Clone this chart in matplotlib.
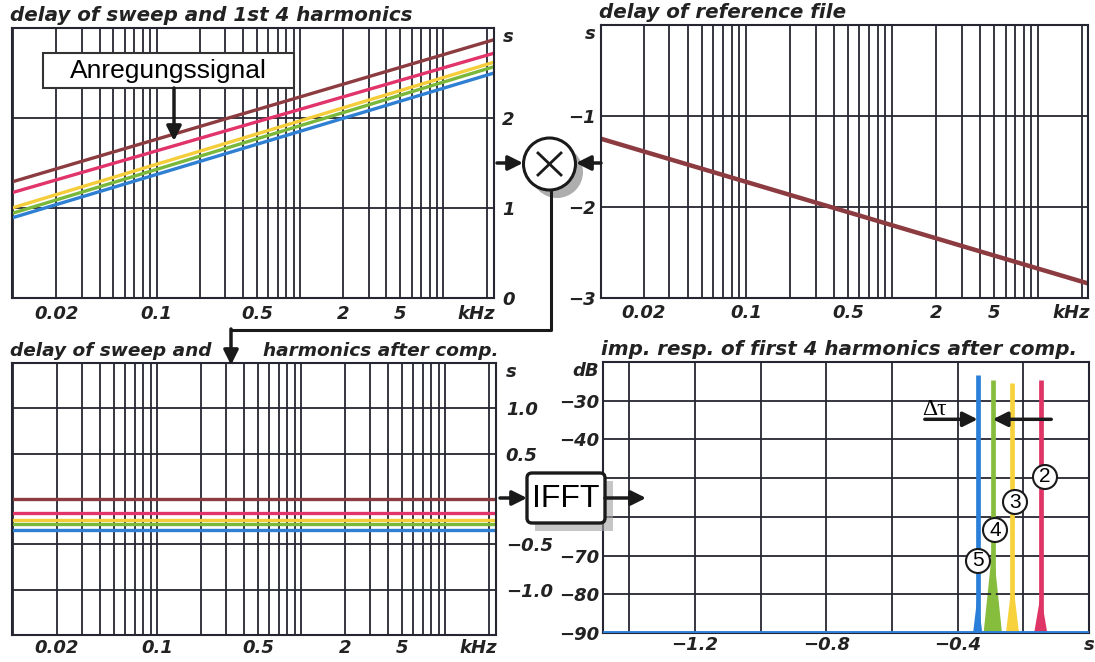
import numpy as np
import matplotlib.pyplot as plt
from matplotlib.patches import Rectangle, Circle, FancyBboxPatch
from matplotlib.ticker import LogLocator, FixedLocator, NullFormatter

# ---- values ----
sweep_khz = [0.0098, 22.5]            # ends of the sweep (log axis)
delay_fund = [1.29, 2.87]
delay_h2 = [1.17, 2.72]
delay_h3 = [1.00, 2.62]
delay_h4 = [0.94, 2.57]
delay_h5 = [0.89, 2.50]

ref_khz = [0.0102, 22.0]
ref_delay = [-1.25, -2.84]

comp_delay = [0.0, -0.15, -0.23, -0.28, -0.34]   # fundamental, 2nd .. 5th

harmonic_no = [2, 3, 4, 5]
peak_time = [-0.147, -0.233, -0.293, -0.339]
peak_level = [-24.7, -25.4, -24.6, -23.3]
floor_level = -90

freq_ticks = [0.02, 0.1, 0.5, 2, 5, 17]
freq_labels = ['0.02', '0.1', '0.5', '2', '5', 'kHz']

# ---- style ----
GRID = '#262633'
colors = ['#8c3b40', '#e0346a', '#f5cd3a', '#7ab83c', '#2f80d2']   # fund, 2, 3, 4, 5
peak_colors = {2: '#de3466', 3: '#f8d23c', 4: '#86bd3d', 5: '#2a80d8'}
TFONT = dict(family='DejaVu Sans', weight='bold', style='italic')

plt.rcParams['font.family'] = 'DejaVu Sans'

fig = plt.figure(figsize=(10.95, 6.62), dpi=100)


def style_axes(ax):
    for sp in ax.spines.values():
        sp.set_color(GRID)
        sp.set_linewidth(1.5)
    ax.tick_params(which='both', length=0)
    for lbl in ax.get_xticklabels() + ax.get_yticklabels():
        lbl.set_fontweight('bold')
        lbl.set_fontstyle('italic')
        lbl.set_fontsize(13)
        lbl.set_color('#222222')


def log_freq_axis(ax, xlim):
    ax.set_xscale('log')
    ax.set_xlim(*xlim)
    ax.xaxis.set_major_locator(FixedLocator(freq_ticks))
    ax.set_xticklabels(freq_labels)
    ax.xaxis.set_minor_locator(LogLocator(base=10, subs=np.arange(1, 10), numticks=60))
    ax.xaxis.set_minor_formatter(NullFormatter())
    ax.xaxis.remove_overlapping_locs = False
    ax.grid(which='minor', axis='x', color=GRID, lw=1.3)
    ax.grid(which='major', axis='y', color=GRID, lw=1.3)
    ax.grid(which='major', axis='x', visible=False)


def title(ax, txt, x=-0.004, ha='left', size=14.3):
    ax.text(x, 1.012, txt, transform=ax.transAxes, ha=ha, va='bottom',
            color='#222222', size=size, **TFONT)


# top left: delay of the sweep and harmonics
ax1 = fig.add_axes([12 / 1095, 1 - 298 / 662, 482 / 1095, 270 / 662])
for d, c in zip([delay_h5, delay_h4, delay_h3, delay_h2, delay_fund], colors[::-1]):
    ax1.plot(sweep_khz, d, color=c, lw=2.4, solid_capstyle='butt')
log_freq_axis(ax1, sweep_khz)
ax1.set_ylim(0, 3)
ax1.set_yticks([0, 1, 2, 3])
ax1.set_yticklabels(['0', '1', '2', 's'])
ax1.yaxis.tick_right()
ax1.tick_params(axis='y', pad=6)
ax1.tick_params(axis='x', pad=5)
style_axes(ax1)
ax1.get_yticklabels()[-1].set_va('top')
title(ax1, 'delay of sweep and 1st 4 harmonics')

# top right: delay of the reference file
ax2 = fig.add_axes([601 / 1095, 1 - 298 / 662, 487 / 1095, 273 / 662])
ax2.plot(ref_khz, ref_delay, color='#8c3b40', lw=3.2)
log_freq_axis(ax2, ref_khz)
ax2.set_ylim(-3, 0)
ax2.set_yticks([-3, -2, -1, 0])
ax2.set_yticklabels(['\u22123', '\u22122', '\u22121', 's'])
ax2.tick_params(axis='y', pad=4)
ax2.tick_params(axis='x', pad=4)
style_axes(ax2)
ax2.get_yticklabels()[-1].set_va('top')
title(ax2, 'delay of reference file')

# bottom left: delays after compensation
ax3 = fig.add_axes([12 / 1095, 1 - 635 / 662, 484 / 1095, 272 / 662])
for d, c in zip(comp_delay[::-1], colors[::-1]):
    ax3.plot(sweep_khz, [d, d], color=c, lw=2.4)
log_freq_axis(ax3, sweep_khz)
ax3.set_ylim(-1.5, 1.5)
ax3.set_yticks([-1.0, -0.5, 0, 0.5, 1.0, 1.5])
ax3.set_yticklabels(['\u22121.0', '\u22120.5', '', '0.5', '1.0', 's'])
ax3.yaxis.tick_right()
ax3.tick_params(axis='y', pad=7)
ax3.tick_params(axis='x', pad=3)
style_axes(ax3)
ax3.get_yticklabels()[-1].set_va('top')
title(ax3, 'delay of sweep and', size=13.3)
title(ax3, 'harmonics after comp.', x=1.006, ha='right', size=13.3)

# bottom right: impulse responses of the harmonics
ax4 = fig.add_axes([603 / 1095, 1 - 633 / 662, 486 / 1095, 271 / 662])
ax4.set_xlim(-1.48, 0)
ax4.set_ylim(-90, -20)
flare = {2: (-80, 0.020), 3: (-76, 0.020), 4: (-67, 0.028), 5: (-80, 0.014)}
for n, t, lev in zip(harmonic_no, peak_time, peak_level):
    c = peak_colors[n]
    ax4.vlines(t, floor_level, lev, color=c, lw=3.4)
    top, hw = flare[n]
    ax4.fill([t - hw, t, t + hw], [floor_level, top, floor_level], color=c, lw=0)
ax4.axhline(floor_level, color=peak_colors[5], lw=3.5, zorder=3)
ax4.set_xticks(np.arange(-1.4, 0.01, 0.2))
ax4.set_xticklabels(['', '\u22121.2', '', '\u22120.8', '', '\u22120.4', '', 's'])
ax4.set_yticks(np.arange(-90, -19, 10))
ax4.set_yticklabels(['\u221290', '\u221280', '\u221270', '', '', '\u221240', '\u221230', 'dB'])
ax4.grid(color=GRID, lw=1.3)
ax4.tick_params(axis='y', pad=3)
ax4.tick_params(axis='x', pad=2)
style_axes(ax4)
ax4.get_yticklabels()[-1].set_va('top')
title(ax4, 'imp. resp. of first 4 harmonics after comp.')

# delta tau arrows between 5th and 4th harmonic
arr = dict(arrowstyle='-|>', color='#1a1a1a', lw=2.5, mutation_scale=22, shrinkA=0, shrinkB=0)
ax4.annotate('', xy=(peak_time[3], -34.8), xytext=(-0.50, -34.8), arrowprops=arr)
ax4.annotate('', xy=(peak_time[2], -34.8), xytext=(-0.115, -34.8), arrowprops=arr)
ax4.text(-0.47, -32.3, '\u0394\u03c4', family='Liberation Serif', fontsize=17, ha='center', va='center')

# ---- block-diagram overlay in pixel coordinates ----
ov = fig.add_axes([0, 0, 1, 1], zorder=10)
ov.set_xlim(0, 1095)
ov.set_ylim(662, 0)
ov.axis('off')

ov.add_patch(Rectangle((43, 53), 251, 35, fc='white', ec='#333333', lw=1.5))
ov.text(168, 71, 'Anregungssignal', family='Liberation Sans', fontsize=19, ha='center', va='center')
ov.annotate('', xy=(174, 141), xytext=(174, 88), arrowprops=arr)

ov.add_patch(Circle((557, 172), 26, fc='#9a9a9a', ec='none', alpha=0.8))
ov.add_patch(Circle((549.5, 164), 26, fc='white', ec='#1a1a1a', lw=2.2))
ov.plot([538, 561], [153, 175], color='#1a1a1a', lw=2)
ov.plot([538, 561], [175, 153], color='#1a1a1a', lw=2)
ov.annotate('', xy=(523, 163), xytext=(497, 163), arrowprops=arr)
ov.annotate('', xy=(576, 163), xytext=(601, 163), arrowprops=arr)

ov.plot([551, 551, 231], [190, 330, 330], color='#1a1a1a', lw=2.2)
ov.annotate('', xy=(231, 365), xytext=(231, 329), arrowprops=arr)

ov.add_patch(Rectangle((535, 481), 78, 50, fc='#a0a0a0', ec='none', alpha=0.6))
ov.add_patch(FancyBboxPatch((527, 473), 78, 50, boxstyle='round,pad=0,rounding_size=5',
                            fc='white', ec='#1a1a1a', lw=2.4))
ov.text(566, 499, 'IFFT', family='Liberation Sans', fontsize=23, ha='center', va='center')
ov.annotate('', xy=(527, 498), xytext=(500, 498), arrowprops=arr)
ov.annotate('', xy=(646, 498), xytext=(605, 498), arrowprops=arr)

for n, (cx, cy) in zip(harmonic_no, [(1045, 477), (1015, 502), (995, 530), (978, 561)]):
    ov.text(cx, cy, str(n), family='Liberation Sans', fontsize=15, ha='center', va='center',
            bbox=dict(boxstyle='circle,pad=0.12', fc='white', ec='#1a1a1a', lw=1.5))

fig.savefig('out.png', dpi=100)
